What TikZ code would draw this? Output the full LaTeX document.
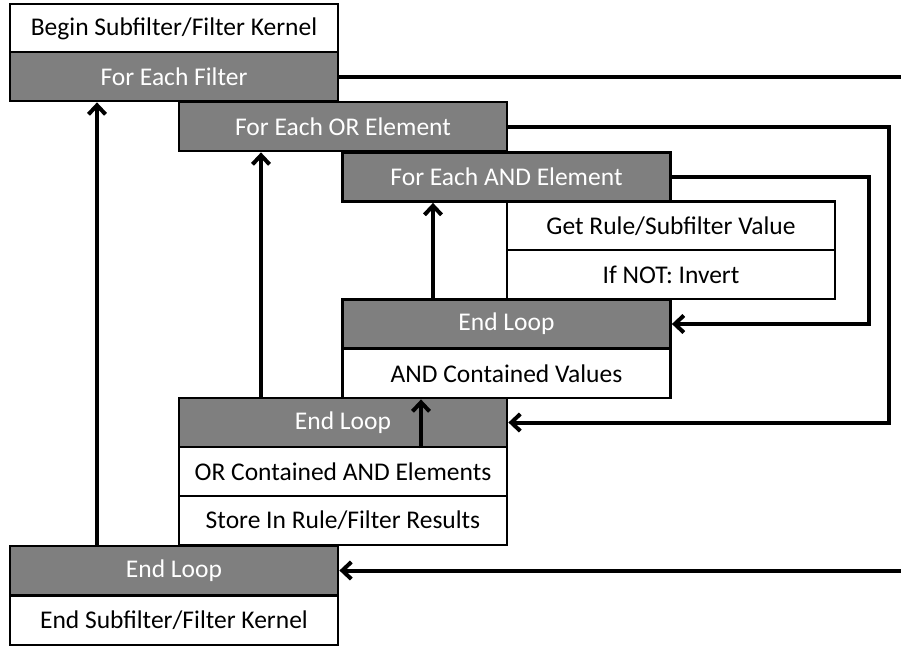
\documentclass[tikz,border=0pt]{standalone}
\usepackage{fontspec}
\setmainfont{Carlito}
\usetikzlibrary{arrows.meta}
\definecolor{boxgray}{RGB}{127,127,127}
\tikzset{
  stagebox/.style={draw=black, line width=2.8pt, rectangle, inner sep=0pt,
    minimum width=328pt, minimum height=49pt,
    font=\fontsize{25.5}{30}\selectfont},
  plainbox/.style={stagebox, fill=white, text=black},
  loopbox/.style={stagebox, fill=boxgray, text=white},
  flow/.style={line width=4pt, -{Straight Barb[length=9pt,width=17pt]}},
  flowline/.style={line width=4pt}
}
\begin{document}
\begin{tikzpicture}[x=1pt, y=-1pt]
  \useasboundingbox (0,0) rectangle (901,646);

  % outer filter loop
  \node[plainbox] (begin)  at (174,28.5)  {Begin Subfilter/Filter Kernel};
  \node[loopbox]  (filt)   at (174,76.5)  {For Each Filter};
  % OR element loop
  \node[loopbox]  (orel)   at (343,126.5) {For Each OR Element};
  % AND element loop
  \node[loopbox]  (andel)  at (506.5,177) {For Each AND Element};
  \node[plainbox] (getval) at (671,226)   {Get Rule/Subfilter Value};
  \node[plainbox] (invert) at (671,274.5) {If NOT: Invert};
  \node[loopbox]  (endand) at (506.5,324) {End Loop};
  \node[plainbox] (andval) at (506.5,373.5) {AND Contained Values};
  \node[loopbox]  (endor)  at (343,422.5) {End Loop};
  \node[plainbox] (orval)  at (343,471.5) {OR Contained AND Elements};
  \node[plainbox] (store)  at (343,520.5) {Store In Rule/Filter Results};
  \node[loopbox]  (endf)   at (174,570.5) {End Loop};
  \node[plainbox] (endk)   at (174,620.5) {End Subfilter/Filter Kernel};

  % columns used by the connectors
  \coordinate (farX) at (910,0);
  \coordinate (orX)  at (889,0);
  \coordinate (andX) at (869,0);
  \coordinate (upF)  at (97,0);
  \coordinate (upO)  at (261,0);
  \coordinate (upA)  at (433,0);
  \coordinate (upV)  at (421,0);

  % loop-back connectors on the right
  \draw[flowline] (filt.east) -- (filt.east -| farX);
  \draw[flow] (endf.east -| farX) -- (endf.east);
  \draw[flow] (orel.east) -- (orel.east -| orX) -- (orX |- endor.east) -- (endor.east);
  \draw[flow] (andel.east) -- (andel.east -| andX) -- (andX |- endand.east) -- (endand.east);

  % upward connectors
  \draw[flow] (endf.north -| upF) -- (filt.south -| upF);
  \draw[flow] (endor.north -| upO) -- (orel.south -| upO);
  \draw[flow] (endand.north -| upA) -- (andel.south -| upA);
  \draw[flow] (endor.south -| upV) -- (andval.south -| upV);
\end{tikzpicture}
\end{document}
